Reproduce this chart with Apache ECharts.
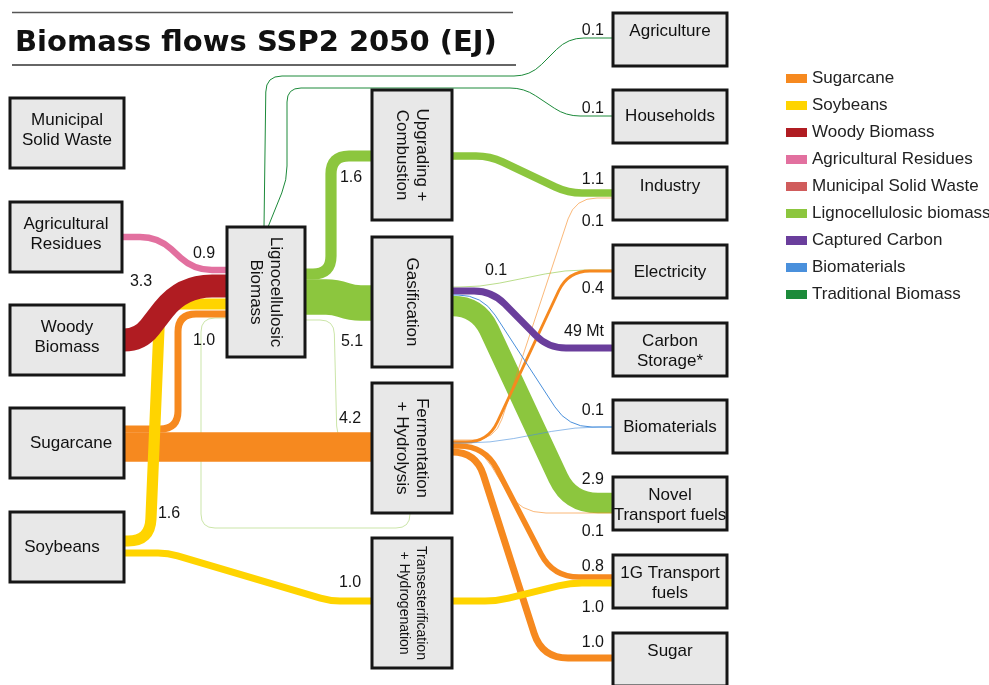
<!DOCTYPE html>
<html>
<head>
<meta charset="utf-8">
<title>Biomass flows SSP2 2050 (EJ)</title>
<script src="https://cdn.jsdelivr.net/npm/echarts@6.0.0/dist/echarts.min.js"></script>
<style>
  html, body { margin: 0; padding: 0; background: #fff; }
  #chart { width: 989px; height: 685px; }
</style>
</head>
<body>
<div id="chart"></div>
<script>
// ---- data ----
const nodeNames = ['Municipal Solid Waste', 'Agricultural Residues', 'Woody Biomass', 'Sugarcane', 'Soybeans',
  'Lignocellulosic Biomass', 'Upgrading + Combustion', 'Gasification', 'Fermentation + Hydrolysis',
  'Transesterification + Hydrogenation', 'Agriculture', 'Households', 'Industry', 'Electricity',
  'Carbon Storage*', 'Biomaterials', 'Novel Transport fuels', '1G Transport fuels', 'Sugar'];
const nodeLabels = ['Municipal\nSolid Waste', 'Agricultural\nResidues', 'Woody\nBiomass', 'Sugarcane', 'Soybeans',
  'Lignocellulosic\nBiomass', 'Upgrading +\nCombustion', 'Gasification', 'Fermentation\n+ Hydrolysis',
  'Transesterification\n+ Hydrogenation', 'Agriculture', 'Households', 'Industry', 'Electricity',
  'Carbon\nStorage*', 'Biomaterials', 'Novel\nTransport fuels', '1G Transport\nfuels', 'Sugar'];

const flowTypes = ['Sugarcane', 'Soybeans', 'Woody Biomass', 'Agricultural Residues', 'Municipal Solid Waste',
  'Lignocellulosic biomass', 'Captured Carbon', 'Biomaterials', 'Traditional Biomass'];

const linkSource = ['Agricultural Residues', 'Woody Biomass', 'Sugarcane', 'Soybeans', 'Sugarcane', 'Soybeans',
  'Lignocellulosic Biomass', 'Lignocellulosic Biomass', 'Lignocellulosic Biomass', 'Lignocellulosic Biomass',
  'Lignocellulosic Biomass', 'Lignocellulosic Biomass', 'Upgrading + Combustion', 'Fermentation + Hydrolysis',
  'Gasification', 'Fermentation + Hydrolysis', 'Gasification', 'Gasification', 'Fermentation + Hydrolysis',
  'Gasification', 'Fermentation + Hydrolysis', 'Fermentation + Hydrolysis', 'Transesterification + Hydrogenation',
  'Fermentation + Hydrolysis'];
const linkTarget = ['Lignocellulosic Biomass', 'Lignocellulosic Biomass', 'Lignocellulosic Biomass',
  'Lignocellulosic Biomass', 'Fermentation + Hydrolysis', 'Transesterification + Hydrogenation',
  'Upgrading + Combustion', 'Gasification', 'Agriculture', 'Households', 'Fermentation + Hydrolysis',
  'Fermentation + Hydrolysis', 'Industry', 'Industry', 'Electricity', 'Electricity', 'Carbon Storage*',
  'Biomaterials', 'Biomaterials', 'Novel Transport fuels', 'Novel Transport fuels', '1G Transport fuels',
  '1G Transport fuels', 'Sugar'];
const linkValue = [0.9, 3.3, 1.0, 1.6, 4.2, 1.0, 1.6, 5.1, 0.1, 0.1, 0.02, 0.02, 1.1, 0.1, 0.1, 0.4, 49, 0.1,
  0.02, 2.9, 0.1, 0.8, 1.0, 1.0];
const linkUnit = ['EJ', 'EJ', 'EJ', 'EJ', 'EJ', 'EJ', 'EJ', 'EJ', 'EJ', 'EJ', 'EJ', 'EJ', 'EJ', 'EJ', 'EJ', 'EJ',
  'Mt', 'EJ', 'EJ', 'EJ', 'EJ', 'EJ', 'EJ', 'EJ'];
const linkType = ['Agricultural Residues', 'Woody Biomass', 'Sugarcane', 'Soybeans', 'Sugarcane', 'Soybeans',
  'Lignocellulosic biomass', 'Lignocellulosic biomass', 'Traditional Biomass', 'Traditional Biomass',
  'Lignocellulosic biomass', 'Lignocellulosic biomass', 'Lignocellulosic biomass', 'Sugarcane',
  'Lignocellulosic biomass', 'Sugarcane', 'Captured Carbon', 'Biomaterials', 'Biomaterials',
  'Lignocellulosic biomass', 'Sugarcane', 'Sugarcane', 'Soybeans', 'Sugarcane'];

// ---- styles & layout ----
const FONT = "'Liberation Sans', Arial, sans-serif";
const PX_PER_EJ = 7;
const PX_PER_MT = 0.14;

const typeColor = {
  'Sugarcane': '#f6891f',
  'Soybeans': '#ffd400',
  'Woody Biomass': '#b01c22',
  'Agricultural Residues': '#e2709f',
  'Municipal Solid Waste': '#d05c5c',
  'Lignocellulosic biomass': '#8cc63e',
  'Captured Carbon': '#6a3e9c',
  'Biomaterials': '#4a90dc',
  'Traditional Biomass': '#1c8a3a'
};
const typeZ = { 'Lignocellulosic biomass': 2, 'Sugarcane': 3 };

// node boxes in layout units (x, y = top-left); tx/ty nudge the text
const nodeBox = {
  'Municipal Solid Waste': { x: 10, y: 98, w: 114, h: 70, ty: -3 },
  'Agricultural Residues': { x: 10, y: 202, w: 112, h: 70, ty: -3 },
  'Woody Biomass': { x: 10, y: 305, w: 114, h: 70, ty: -3 },
  'Sugarcane': { x: 10, y: 408, w: 114, h: 70, tx: 4 },
  'Soybeans': { x: 10, y: 512, w: 114, h: 70, tx: -5 },
  'Lignocellulosic Biomass': { x: 227, y: 227, w: 78, h: 130, vert: true },
  'Upgrading + Combustion': { x: 372, y: 90, w: 80, h: 130, vert: true },
  'Gasification': { x: 372, y: 237, w: 80, h: 130, vert: true },
  'Fermentation + Hydrolysis': { x: 372, y: 383, w: 80, h: 130, vert: true },
  'Transesterification + Hydrogenation': { x: 372, y: 538, w: 80, h: 130, vert: true, fs: 14, lh: 17 },
  'Agriculture': { x: 613, y: 13, w: 114, h: 53, ty: -8 },
  'Households': { x: 613, y: 90, w: 114, h: 53 },
  'Industry': { x: 613, y: 167, w: 114, h: 53, ty: -7 },
  'Electricity': { x: 613, y: 245, w: 114, h: 53, ty: 1 },
  'Carbon Storage*': { x: 613, y: 323, w: 114, h: 53, ty: 2 },
  'Biomaterials': { x: 613, y: 400, w: 114, h: 53, ty: 1 },
  'Novel Transport fuels': { x: 613, y: 477, w: 114, h: 53, ty: 2 },
  '1G Transport fuels': { x: 613, y: 555, w: 114, h: 53, ty: 2 },
  'Sugar': { x: 613, y: 633, w: 114, h: 53, ty: -8 }
};

// flow routing: port offsets, bend points, corner radius, label anchor [end, dx, dy, align]
const routes = [
  { sy: 237, ty: 270, via: [[158, 237], [194, 270]], r: 18, lab: ['e', -23, -16] },
  { sy: 340, ty: 286, via: [[140, 340], [182, 286]], r: 30, lab: ['e', -86, -4] },
  { sy: 429, ty: 314, via: [[178, 429], [178, 314]], r: 18, lab: ['e', -23, 27] },
  { sy: 541, ty: 304, via: [[150, 541], [160, 304]], r: 22, lab: ['s', 45, -27] },
  { sy: 447, ty: 447, via: [], r: 0, lab: ['e', -22, -28] },
  { sy: 553, ty: 601, via: [[168, 553], [330, 601]], r: 10, lab: ['e', -22, -18] },
  { sy: 274, ty: 156, via: [[331, 274], [331, 156]], r: 18, lab: ['e', -21, 22] },
  { sy: 297, ty: 303, via: [[335, 297], [352, 303]], r: 10, lab: ['e', -20, 39] },
  { out: 'top', sx: 264, ty: 38, via: [[266, 76], [530, 76], [568, 38]], r: 16, lab: ['e', -9, -7, 'right'] },
  { out: 'top', sx: 268, ty: 116, via: [[287, 180], [287, 88], [524, 88], [566, 116]], r: 14, lab: ['e', -9, -7, 'right'] },
  { out: 'left', sy: 318, inn: 'bottom', tx: 410, via: [[201, 318], [201, 528], [410, 528]], r: 14, op: 0.45, lab: null },
  { sy: 320, ty: 440, via: [[334, 320], [337, 440]], r: 14, op: 0.45, lab: null },
  { sy: 156, ty: 193, via: [[490, 156], [568, 193]], r: 14, lab: ['e', -9, -13, 'right'] },
  { sy: 440, ty: 198, via: [[495, 440], [575, 198]], r: 22, op: 0.6, lab: ['e', -9, 24, 'right'] },
  { sy: 287, ty: 270, via: [[480, 287], [565, 270]], r: 20, op: 0.6, lab: ['s', 44, -16] },
  { sy: 442, ty: 271, via: [[488, 442], [568, 271]], r: 22, lab: ['e', -9, 18, 'right'] },
  { sy: 291, ty: 348, via: [[492, 291], [548, 348]], r: 18, lab: ['e', -9, -16, 'right'] },
  { sy: 295, ty: 427, via: [[482, 295], [568, 427]], r: 24, lab: ['e', -9, -16, 'right'] },
  { sy: 443, ty: 427, via: [[490, 443], [575, 427]], r: 24, op: 0.6, lab: null },
  { sy: 306, ty: 503, via: [[478, 306], [570, 503]], r: 28, lab: ['e', -9, -23, 'right'] },
  { sy: 444, ty: 513, via: [[478, 444], [520, 513]], r: 26, op: 0.6, lab: ['e', -9, 19, 'right'] },
  { sy: 446, ty: 577, via: [[485, 446], [553, 577]], r: 26, lab: ['e', -9, -10, 'right'] },
  { sy: 601, ty: 583, via: [[497, 601], [570, 583]], r: 12, lab: ['e', -9, 25, 'right'] },
  { sy: 452, ty: 658, via: [[476, 452], [542, 658]], r: 26, lab: ['e', -9, -15, 'right'] }
];

function linkWidth(i) {
  const w = linkUnit[i] === 'Mt' ? linkValue[i] * PX_PER_MT : linkValue[i] * PX_PER_EJ;
  return Math.max(1, w);
}

function linkLabel(i) {
  return linkUnit[i] === 'Mt' ? linkValue[i] + ' Mt' : linkValue[i].toFixed(1);
}

function linkPoints(i) {
  const rt = routes[i];
  const s = nodeBox[linkSource[i]];
  const t = nodeBox[linkTarget[i]];
  let start, end;
  if (rt.out === 'top') start = [rt.sx, s.y];
  else if (rt.out === 'left') start = [s.x, rt.sy];
  else start = [s.x + s.w, rt.sy];
  if (rt.inn === 'bottom') end = [rt.tx, t.y + t.h];
  else end = [t.x, rt.ty];
  return [start].concat(rt.via, [end]);
}

// polyline with rounded corners as svg path
function roundedPath(pts, r) {
  const f = p => p[0].toFixed(2) + ' ' + p[1].toFixed(2);
  const last = pts.length - 1;
  let d = 'M ' + f(pts[0]);
  for (let k = 1; k < last; k++) {
    const a = pts[k - 1], b = pts[k], c = pts[k + 1];
    const l1 = Math.hypot(b[0] - a[0], b[1] - a[1]);
    const l2 = Math.hypot(c[0] - b[0], c[1] - b[1]);
    const rr = Math.min(r, k - 1 === 0 ? l1 : l1 / 2, k + 1 === last ? l2 : l2 / 2);
    if (rr < 0.5) { d += ' L ' + f(b); continue; }
    const p = [b[0] + (a[0] - b[0]) * rr / l1, b[1] + (a[1] - b[1]) * rr / l1];
    const q = [b[0] + (c[0] - b[0]) * rr / l2, b[1] + (c[1] - b[1]) * rr / l2];
    d += ' L ' + f(p) + ' Q ' + f(b) + ' ' + f(q);
  }
  d += ' L ' + f(pts[last]);
  return d;
}

function renderLink(params, api) {
  const i = api.value(0);
  const rt = routes[i];
  const pts = linkPoints(i).map(p => api.coord(p));
  const unit = Math.abs(api.coord([1, 0])[0] - api.coord([0, 0])[0]);
  return {
    type: 'path',
    shape: { pathData: roundedPath(pts, rt.r * unit) },
    style: {
      fill: 'none',
      stroke: typeColor[linkType[i]],
      lineWidth: linkWidth(i),
      opacity: rt.op || 1,
      lineCap: 'butt',
      lineJoin: 'round'
    }
  };
}

function renderNode(params, api) {
  const i = api.value(0);
  const b = nodeBox[nodeNames[i]];
  const p0 = api.coord([b.x, b.y]);
  const p1 = api.coord([b.x + b.w, b.y + b.h]);
  const c = api.coord([b.x + b.w / 2 + (b.tx || 0), b.y + b.h / 2 + (b.ty || 0)]);
  return {
    type: 'group',
    children: [
      {
        type: 'rect',
        shape: { x: Math.min(p0[0], p1[0]), y: Math.min(p0[1], p1[1]), width: Math.abs(p1[0] - p0[0]), height: Math.abs(p1[1] - p0[1]) },
        style: { fill: '#e8e8e8', stroke: '#161616', lineWidth: 3 }
      },
      {
        type: 'text',
        x: c[0], y: c[1],
        rotation: b.vert ? -Math.PI / 2 : 0,
        style: {
          text: nodeLabels[i],
          fill: '#111',
          fontSize: b.fs || 17,
          lineHeight: b.lh || 20,
          fontFamily: FONT,
          align: 'center',
          verticalAlign: 'middle'
        }
      }
    ]
  };
}

function renderLabel(params, api) {
  const i = api.value(0);
  const lab = routes[i].lab;
  const pts = linkPoints(i);
  const anchor = lab[0] === 's' ? pts[0] : pts[pts.length - 1];
  const c = api.coord([anchor[0] + lab[1], anchor[1] + lab[2]]);
  return {
    type: 'text',
    x: c[0], y: c[1],
    style: {
      text: linkLabel(i),
      fill: '#151515',
      fontSize: 16,
      fontFamily: FONT,
      align: lab[3] || 'center',
      verticalAlign: 'middle'
    }
  };
}

const linkSeries = flowTypes.map(type => ({
  type: 'custom',
  name: type,
  coordinateSystem: 'cartesian2d',
  z: typeZ[type] || 4,
  itemStyle: { color: typeColor[type] },
  renderItem: renderLink,
  data: linkType.map((t, i) => (t === type ? [i, 0] : null)).filter(Boolean)
}));

const chart = echarts.init(document.getElementById('chart'));
chart.setOption({
  animation: false,
  backgroundColor: '#fff',
  title: {
    text: 'Biomass flows SSP2 2050 (EJ)',
    left: 10,
    top: 24,
    textStyle: { fontFamily: 'DejaVu Sans', fontWeight: 'bold', fontSize: 29, color: '#111' }
  },
  graphic: [
    { type: 'line', shape: { x1: 12, y1: 12.5, x2: 513, y2: 12.5 }, style: { stroke: '#555', lineWidth: 1.5 } },
    { type: 'line', shape: { x1: 12, y1: 65, x2: 516, y2: 65 }, style: { stroke: '#333', lineWidth: 1.5 } }
  ],
  legend: {
    data: flowTypes.map(n => ({ name: n, itemStyle: { color: typeColor[n] } })),
    orient: 'vertical',
    left: 781,
    top: 65,
    icon: 'rect',
    itemWidth: 21,
    itemHeight: 9,
    itemGap: 10,
    textStyle: { fontSize: 17, lineHeight: 17, color: '#222', fontFamily: FONT }
  },
  grid: { left: 0, right: 0, top: 0, bottom: 0 },
  xAxis: { type: 'value', min: 0, max: 989, show: false },
  yAxis: { type: 'value', min: 0, max: 685, inverse: true, show: false },
  series: linkSeries.concat([
    {
      type: 'custom',
      name: 'nodes',
      coordinateSystem: 'cartesian2d',
      z: 5,
      renderItem: renderNode,
      data: nodeNames.map((n, i) => [i, 0])
    },
    {
      type: 'custom',
      name: 'labels',
      coordinateSystem: 'cartesian2d',
      z: 6,
      renderItem: renderLabel,
      data: routes.map((rt, i) => (rt.lab ? [i, 0] : null)).filter(Boolean)
    }
  ])
});
</script>
</body>
</html>
